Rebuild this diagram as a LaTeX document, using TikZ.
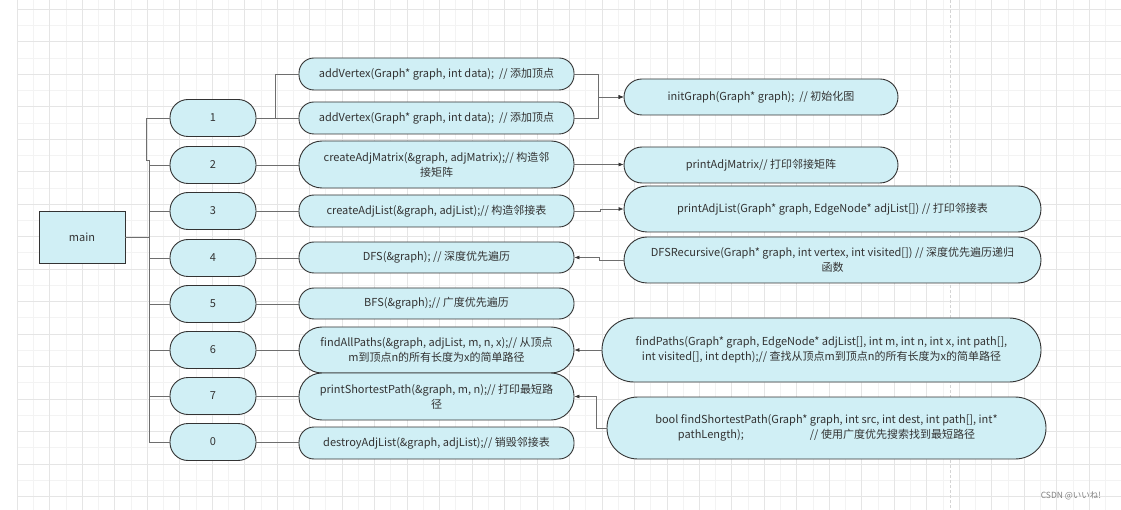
\documentclass[tikz,border=0pt]{standalone}
\usepackage{fontspec}
\setmainfont{Noto Sans CJK SC}
\usetikzlibrary{arrows.meta}
\definecolor{pillfill}{RGB}{208,239,245}
\definecolor{edgegray}{RGB}{51,51,51}
\definecolor{linkgray}{RGB}{110,110,110}
\definecolor{txtgray}{RGB}{51,51,51}
\definecolor{gridmajor}{RGB}{229,229,229}
\definecolor{gridminor}{RGB}{243,243,243}
\definecolor{pageline}{RGB}{212,212,212}

\begin{document}
\begin{tikzpicture}[
  x=1pt, y=-1pt,
  box/.style={draw=edgegray, line width=0.9pt, fill=pillfill, align=center, inner sep=0pt,
              font=\fontsize{11}{15}\selectfont, text=txtgray},
  pill/.style={box, rounded corners=15pt, minimum height=32pt},
  num/.style={pill, minimum width=86pt, minimum height=37pt, rounded corners=18pt},
  mid/.style={pill, minimum width=275pt},
  rhs/.style={pill, minimum width=274pt, minimum height=36pt, rounded corners=18pt},
  wide/.style={pill, minimum width=417pt, minimum height=46pt, rounded corners=23pt},
  link/.style={draw=linkgray, line width=0.6pt},
  arrow/.style={link, -{Latex[length=5pt, width=4pt, color=edgegray]}}
]
\useasboundingbox (0,0) rectangle (1121,510);
\fill[white] (0,0) rectangle (1121,510);
\foreach \i in {1,3,...,67} \draw[gridminor, line width=0.8pt] (17.3+16.24*\i,0) -- (17.3+16.24*\i,510);
\foreach \k in {1,3,...,29} \draw[gridminor, line width=0.8pt] (17.3,9.3+16.24*\k) -- (1121,9.3+16.24*\k);
\foreach \i in {0,2,...,68} \draw[gridmajor, line width=0.8pt] (17.3+16.24*\i,0) -- (17.3+16.24*\i,510);
\foreach \k in {0,2,...,30} \draw[gridmajor, line width=0.8pt] (17.3,9.3+16.24*\k) -- (1121,9.3+16.24*\k);
\draw[pageline, line width=1pt, dash pattern=on 3pt off 2pt] (950,0) -- (950,510);

\node[box, minimum width=86pt, minimum height=52pt] (main) at (82,237) {main};
\foreach \n/\y in {1/118, 2/165, 3/211, 4/258, 5/304, 6/350, 7/396, 0/442}
  \node[num] (n\n) at (213,\y) {\n};

\node[mid] (addv1) at (436.5,74) {addVertex(Graph* graph, int data);\ \ // 添加顶点};
\node[mid] (addv2) at (436.5,118) {addVertex(Graph* graph, int data);\ \ // 添加顶点};
\node[mid, minimum height=47pt, rounded corners=23pt] (mkmat) at (436.5,164.5) {createAdjMatrix(\&graph, adjMatrix);// 构造邻\\接矩阵};
\node[mid] (mklist) at (436.5,211) {createAdjList(\&graph, adjList);// 构造邻接表};
\node[mid, minimum height=31pt] (dfs) at (436.5,257.5) {DFS(\&graph); // 深度优先遍历};
\node[mid, minimum height=31pt] (bfs) at (436.5,303.5) {BFS(\&graph);// 广度优先遍历};
\node[mid, minimum height=46pt, rounded corners=23pt] (allpaths) at (436.5,350) {findAllPaths(\&graph, adjList, m, n, x);// 从顶点\\m到顶点n的所有长度为x的简单路径};
\node[mid, minimum height=47pt, rounded corners=23pt] (shortest) at (436.5,396.5) {printShortestPath(\&graph, m, n);// 打印最短路\\径};
\node[mid] (destroy) at (436.5,443) {destroyAdjList(\&graph, adjList);// 销毁邻接表};

\node[rhs] (init) at (761,97) {initGraph(Graph* graph);\ \ // 初始化图};
\node[rhs] (pmat) at (761,165) {printAdjMatrix// 打印邻接矩阵};
\node[wide] (plist) at (832.5,209) {printAdjList(Graph* graph, EdgeNode* adjList[]) // 打印邻接表};
\node[wide] (dfsrec) at (832.5,260) {DFSRecursive(Graph* graph, int vertex, int visited[]) // 深度优先遍历递归\\函数};
\node[wide, minimum width=439pt, minimum height=64pt, rounded corners=32pt] (fpaths) at (821.5,350) {findPaths(Graph* graph, EdgeNode* adjList[], int m, int n, int x, int path[],\\int visited[], int depth);// 查找从顶点m到顶点n的所有长度为x的简单路径};
\node[wide, minimum width=439pt, minimum height=62pt, rounded corners=31pt] (fshort) at (826.5,428) {bool findShortestPath(Graph* graph, int src, int dest, int path[], int*\\pathLength);\hspace{66pt}// 使用广度优先搜索找到最短路径};

\node[font=\fontsize{8.5}{10}\selectfont, text=gray] (mark) at (1071,496) {CSDN @いいね!};

\coordinate (trunk) at (149,237);
\draw[link] (main.east) -- (trunk);
\draw[link] (trunk) -- ++(0,-77) -- ++(-3,0) |- (n1.west);
\foreach \n in {2,3,4,5,6,7,0}
  \draw[link] (trunk) |- (n\n.west);
\draw[link] (n1.east) -- (addv2.west);
\draw[link] (n1.east) -- ++(19,0) |- (addv1.west);
\foreach \a/\b in {n2/mkmat, n3/mklist, n4/dfs, n5/bfs, n6/allpaths, n7/shortest, n0/destroy}
  \draw[link] (\a.east) -- (\a.east -| \b.west);
\draw[arrow] (addv1.east) -- ++(24,0) |- (init.west);
\draw[arrow] (addv2.east) -- ++(24,0) |- (init.west);
\draw[arrow] (mkmat.east) -- (mkmat.east -| pmat.west);
\draw[arrow] (mklist.east) -- ++(26,0) |- (plist.west);
\draw[arrow] (dfsrec.west) -- ++(-24,0) |- (dfs.east);
\draw[arrow] (fpaths.west) -- (fpaths.west -| allpaths.east);
\draw[arrow] (fshort.west) -- ++(-10,0) |- (shortest.east);
\end{tikzpicture}
\end{document}
